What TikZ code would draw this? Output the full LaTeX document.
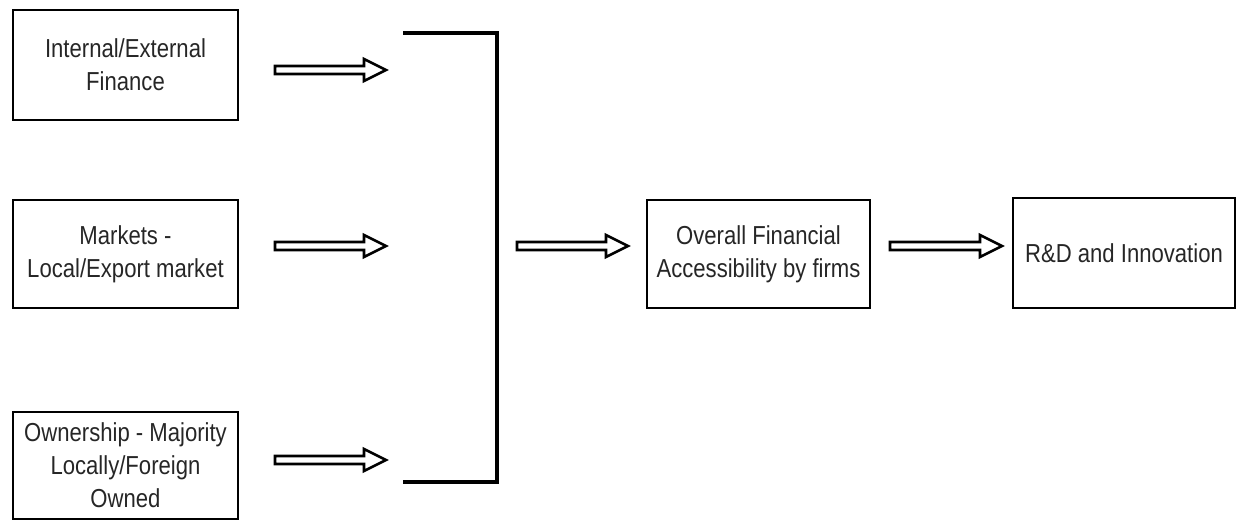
\documentclass[tikz,border=0pt]{standalone}
\usepackage{fontspec}
\setmainfont{Liberation Sans}[FakeStretch=0.85]
\usetikzlibrary{calc}
\tikzset{
  box/.style={draw=black, line width=2pt, inner sep=0pt, align=center,
    text=black!85, font=\fontsize{26}{33}\selectfont},
  harrow/.style={draw=black, line width=2.6pt, line join=miter,
    to path={let \p1=(\tikztostart), \p2=(\tikztotarget) in
      (\x1,\y1+4pt) -- (\x2-22pt,\y1+4pt) -- (\x2-22pt,\y1+11pt) -- (\x2,\y1)
      -- (\x2-22pt,\y1-11pt) -- (\x2-22pt,\y1-4pt) -- (\x1,\y1-4pt) -- cycle}},
  bracket/.style={draw=black, line width=3.2pt, line join=miter}
}
\begin{document}
\begin{tikzpicture}[x=1pt,y=-1pt]
\useasboundingbox (0,0) rectangle (1237,521);
\node[box, minimum width=225pt, minimum height=110pt] (b1) at (125.5,65) {Internal/External\\Finance};
\node[box, minimum width=225pt, minimum height=108pt] (b2) at (125.5,254) {Markets -\\Local/Export market};
\node[box, minimum width=225pt, minimum height=107pt] (b3) at (125.5,465.5) {Ownership - Majority\\Locally/Foreign\\Owned};
\node[box, minimum width=223pt, minimum height=108pt] (b4) at (758.5,254) {Overall Financial\\Accessibility by firms};
\node[box, minimum width=222pt, minimum height=110pt] (b5) at (1124,253) {R\&D and Innovation};
% bracket
\coordinate (bt) at (403,33);
\coordinate (btr) at (497,33);
\coordinate (bbr) at (497,482);
\coordinate (bb) at (403,482);
\draw[bracket] (bt) -- (btr) -- (bbr) -- (bb);
% arrow end points
\coordinate (a1s) at (275,70);  \coordinate (a1e) at (386,70);
\coordinate (a2s) at (275,246); \coordinate (a2e) at (386,246);
\coordinate (a3s) at (275,460); \coordinate (a3e) at (386,460);
\coordinate (a4s) at (517,246); \coordinate (a4e) at (628,246);
\coordinate (a5s) at (890,246); \coordinate (a5e) at (1002,246);
\draw[harrow] (a1s) to (a1e);
\draw[harrow] (a2s) to (a2e);
\draw[harrow] (a3s) to (a3e);
\draw[harrow] (a4s) to (a4e);
\draw[harrow] (a5s) to (a5e);
\end{tikzpicture}
\end{document}
